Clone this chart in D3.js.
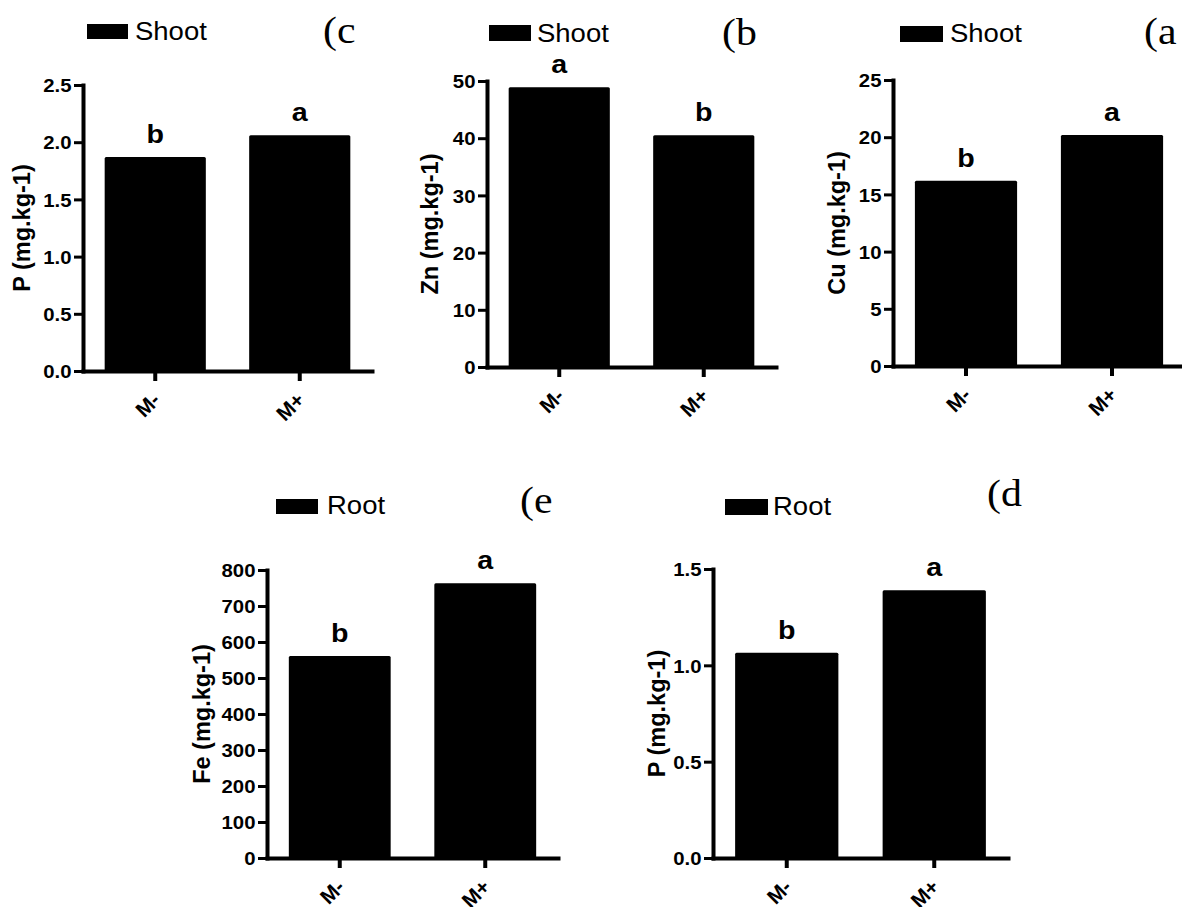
<!DOCTYPE html>
<html>
<head>
<meta charset="utf-8">
<script src="https://cdn.jsdelivr.net/npm/d3@7"></script>
<style>
  body { margin: 0; background: #fff; }
  svg { display: block; }
</style>
</head>
<body>
<svg id="chart" width="1182" height="907"></svg>
<script>
// ---------------- data ----------------
const categories = ["M-", "M+"];

const shootPValues = [1.87, 2.06];
const shootZnValues = [48.9, 40.5];
const shootCuValues = [16.2, 20.2];
const rootFeValues = [561, 763];
const rootPValues = [1.065, 1.39];

const shootPLetters = ["b", "a"];
const shootZnLetters = ["a", "b"];
const shootCuLetters = ["b", "a"];
const rootFeLetters = ["b", "a"];
const rootPLetters = ["b", "a"];

const shootPTicks = [0, 0.5, 1, 1.5, 2, 2.5];
const shootPTickLabels = ["0.0", "0.5", "1.0", "1.5", "2.0", "2.5"];
const shootZnTicks = [0, 10, 20, 30, 40, 50];
const shootZnTickLabels = ["0", "10", "20", "30", "40", "50"];
const shootCuTicks = [0, 5, 10, 15, 20, 25];
const shootCuTickLabels = ["0", "5", "10", "15", "20", "25"];
const rootFeTicks = [0, 100, 200, 300, 400, 500, 600, 700, 800];
const rootFeTickLabels = ["0", "100", "200", "300", "400", "500", "600", "700", "800"];
const rootPTicks = [0, 0.5, 1, 1.5];
const rootPTickLabels = ["0.0", "0.5", "1.0", "1.5"];

const panelTitles = ["(c", "(b", "(a", "(e", "(d"];
const yTitles = ["P (mg.kg-1)", "Zn (mg.kg-1)", "Cu (mg.kg-1)", "Fe (mg.kg-1)", "P (mg.kg-1)"];
const legendLabels = ["Shoot", "Shoot", "Shoot", "Root", "Root"];

// ---------------- layout (positions / styles, not data) ----------------
const layout = [
  { x0: 83,  yTop: 85,  yBot: 371, w: 289, labelX: 22,  leg: { x: 87,  y: 24,  w: 41, h: 15, tx: 135, ty: 40 },  tpos: { x: 323, y: 43 } },
  { x0: 487, yTop: 81,  yBot: 367, w: 289, labelX: 430, leg: { x: 489, y: 25,  w: 42, h: 16, tx: 537, ty: 42 },  tpos: { x: 722, y: 45 } },
  { x0: 893, yTop: 80,  yBot: 366, w: 292, labelX: 837, leg: { x: 900, y: 26,  w: 43, h: 16, tx: 950, ty: 42 },  tpos: { x: 1144, y: 44 } },
  { x0: 267, yTop: 570, yBot: 858, w: 291, labelX: 202, leg: { x: 276, y: 499, w: 42, h: 15, tx: 327, ty: 514 }, tpos: { x: 520, y: 513 } },
  { x0: 713, yTop: 569, yBot: 858, w: 295, labelX: 657, leg: { x: 725, y: 499, w: 43, h: 16, tx: 773, ty: 515 }, tpos: { x: 987, y: 506 } }
];

const panels = [
  { values: shootPValues,  letters: shootPLetters,  ticks: shootPTicks,  tickLabels: shootPTickLabels },
  { values: shootZnValues, letters: shootZnLetters, ticks: shootZnTicks, tickLabels: shootZnTickLabels },
  { values: shootCuValues, letters: shootCuLetters, ticks: shootCuTicks, tickLabels: shootCuTickLabels },
  { values: rootFeValues,  letters: rootFeLetters,  ticks: rootFeTicks,  tickLabels: rootFeTickLabels },
  { values: rootPValues,   letters: rootPLetters,   ticks: rootPTicks,   tickLabels: rootPTickLabels }
].map((p, i) => Object.assign(p, layout[i], { title: panelTitles[i], yTitle: yTitles[i], legend: legendLabels[i] }));

const SANS = "'Liberation Sans', Arial, Helvetica, sans-serif";
const SERIF = "'Liberation Serif', 'Times New Roman', serif";
const STRETCH = 1.1;

const svg = d3.select("#chart");
svg.append("rect").attr("width", 1182).attr("height", 907).attr("fill", "#fff");

panels.forEach(p => {
  const g = svg.append("g");
  const x = d3.scaleBand().domain(categories).range([p.x0, p.x0 + p.w]).paddingInner(0.3).paddingOuter(0.15);
  const y = d3.scaleLinear().domain([0, d3.max(p.ticks)]).range([p.yBot, p.yTop]);

  // bars
  g.selectAll("rect.bar").data(p.values).join("rect")
    .attr("class", "bar")
    .attr("x", (d, i) => x(categories[i]))
    .attr("width", x.bandwidth())
    .attr("y", d => y(d))
    .attr("height", d => y(0) - y(d))
    .attr("rx", 1.5)
    .attr("fill", "#000");

  // significance letters
  g.selectAll("text.sig").data(p.values).join("text")
    .attr("class", "sig")
    .attr("transform", (d, i) => `translate(${x(categories[i]) + x.bandwidth() / 2},${y(d) - 14}) scale(${STRETCH},1)`)
    .attr("text-anchor", "middle")
    .attr("font-family", SANS)
    .attr("font-weight", "bold")
    .attr("font-size", 26)
    .text((d, i) => p.letters[i]);

  // y axis
  const yAxis = g.append("g")
    .attr("transform", `translate(${p.x0},0)`)
    .call(d3.axisLeft(y).tickValues(p.ticks).tickFormat((d, i) => p.tickLabels[i]).tickSize(9).tickSizeOuter(0));
  yAxis.select(".domain").attr("stroke", "#000").attr("stroke-width", 4).attr("stroke-linecap", "square");
  yAxis.selectAll(".tick line").attr("stroke", "#000").attr("stroke-width", 3);
  yAxis.selectAll(".tick text")
    .attr("x", 0).attr("dy", "0.36em")
    .attr("transform", `translate(-11.5,0) scale(${STRETCH},1)`)
    .attr("text-anchor", "end")
    .attr("font-family", SANS).attr("font-weight", "bold").attr("font-size", 18.5).attr("fill", "#000");

  // x axis
  const xAxis = g.append("g")
    .attr("transform", `translate(0,${p.yBot})`)
    .call(d3.axisBottom(x).tickSize(10).tickSizeOuter(0));
  xAxis.select(".domain").attr("stroke", "#000").attr("stroke-width", 4).attr("stroke-linecap", "square");
  xAxis.selectAll(".tick line").attr("stroke", "#000").attr("stroke-width", 4);
  xAxis.selectAll(".tick text")
    .attr("x", 0).attr("y", 0).attr("dy", "0.35em")
    .attr("transform", "translate(1,25) rotate(-45)")
    .attr("text-anchor", "end")
    .attr("font-family", SANS).attr("font-weight", "bold").attr("font-size", 21).attr("fill", "#000");

  // y axis title
  g.append("text")
    .attr("transform", `translate(${p.labelX},${(p.yTop + p.yBot) / 2}) rotate(-90)`)
    .attr("dy", "0.36em")
    .attr("text-anchor", "middle")
    .attr("font-family", SANS).attr("font-weight", "bold").attr("font-size", 23.5)
    .text(p.yTitle);

  // legend
  g.append("rect")
    .attr("x", p.leg.x).attr("y", p.leg.y).attr("width", p.leg.w).attr("height", p.leg.h)
    .attr("fill", "#000");
  g.append("text")
    .attr("transform", `translate(${p.leg.tx},${p.leg.ty}) scale(${STRETCH},1)`)
    .attr("font-family", SANS).attr("font-size", 25)
    .text(p.legend);

  // panel letter
  g.append("text")
    .attr("transform", `translate(${p.tpos.x},${p.tpos.y}) scale(${STRETCH},1)`)
    .attr("font-family", SERIF).attr("font-size", 38)
    .text(p.title);
});
</script>
</body>
</html>
